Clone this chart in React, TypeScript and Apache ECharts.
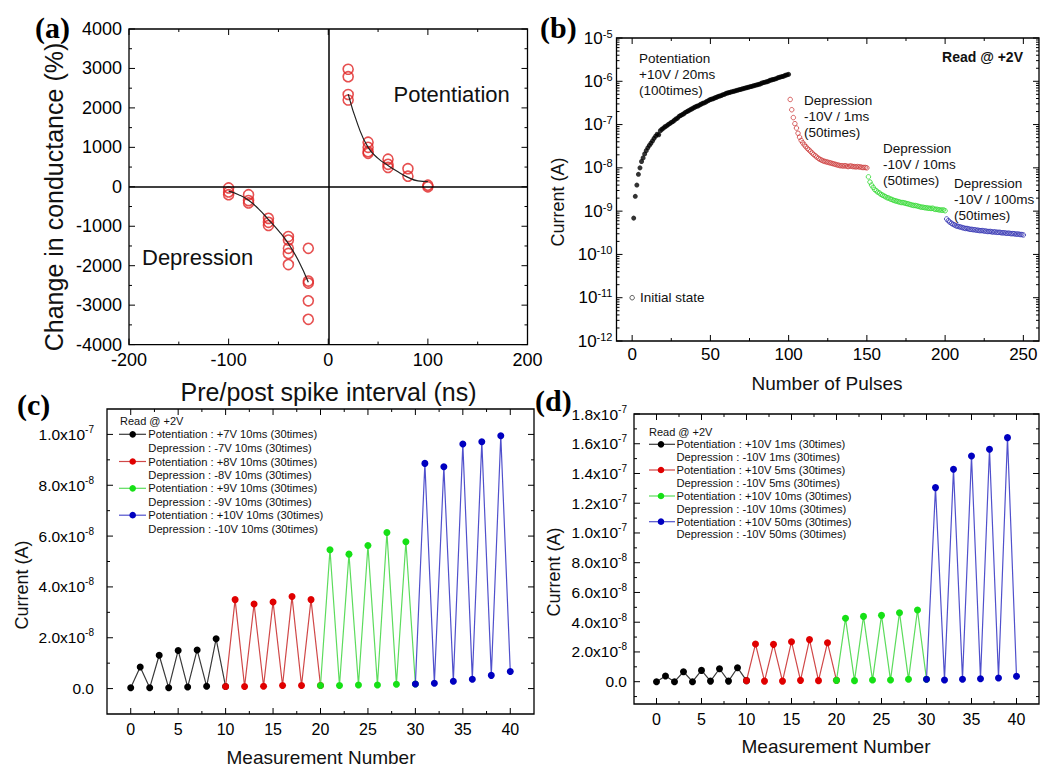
import React, { useEffect, useRef } from 'react';
import * as echarts from 'echarts';

const FONT = '"Liberation Sans", Arial, sans-serif';
const SERIF = '"Liberation Serif", "Times New Roman", serif';

// ---------------- Panel (a) data ----------------
const aIntervals = [-100, -100, -100, -80, -80, -80, -60, -60, -60, -40, -40, -40, -40, -40, -20, -20, -20, -20, -20,
  20, 20, 20, 20, 40, 40, 40, 40, 60, 60, 60, 80, 80, 100, 100];
const aChange = [-30, -130, -200, -200, -350, -410, -800, -900, -980, -1260, -1350, -1560, -1690, -1970, -1560, -2390, -2440, -2890, -3360,
  2980, 2790, 2340, 2200, 1130, 1000, 890, 850, 700, 570, 490, 460, 270, 40, 0];
const aDepFitX = [-100, -90, -80, -70, -60, -50, -40, -30, -20];
const aDepFitY = [-110, -200, -340, -560, -830, -1110, -1440, -1870, -2420];
const aPotFitX = [20, 30, 40, 50, 60, 70, 80, 90, 100];
const aPotFitY = [2350, 1550, 1000, 720, 540, 380, 240, 150, 130];
const aXTicks = [-200, -100, 0, 100, 200];
const aXMinor = [-150, -50, 50, 150];
const aYTicks = [-4000, -3000, -2000, -1000, 0, 1000, 2000, 3000, 4000];
const aYMinor = [-3500, -2500, -1500, -500, 500, 1500, 2500, 3500];

// ---------------- Panel (b) data ----------------
const bInitial = [[0, 1e-11]];
const bPotStart = 1;
const bPotValues = [
  6.9e-10, 2.2e-9, 4.0e-9, 7.1e-9, 1.0e-8, 1.4e-8, 1.7e-8, 2.1e-8, 2.5e-8, 2.9e-8,
  3.3e-8, 3.7e-8, 4.2e-8, 4.8e-8, 5.4e-8, 6.0e-8, 5.8e-8, 7.2e-8, 7.8e-8, 8.3e-8,
  8.9e-8, 9.3e-8, 1.0e-7, 1.05e-7, 1.12e-7, 1.17e-7, 1.26e-7, 1.35e-7, 1.41e-7, 1.55e-7,
  1.62e-7, 1.70e-7, 1.78e-7, 1.91e-7, 2.0e-7, 2.09e-7, 2.19e-7, 2.29e-7, 2.40e-7, 2.51e-7,
  2.63e-7, 2.69e-7, 2.82e-7, 2.95e-7, 3.09e-7, 3.16e-7, 3.31e-7, 3.47e-7, 3.63e-7, 3.80e-7,
  3.89e-7, 3.98e-7, 4.17e-7, 4.27e-7, 4.47e-7, 4.57e-7, 4.68e-7, 4.90e-7, 5.0e-7, 5.25e-7,
  5.37e-7, 5.50e-7, 5.62e-7, 5.75e-7, 5.89e-7, 6.03e-7, 6.17e-7, 6.31e-7, 6.46e-7, 6.61e-7,
  6.76e-7, 6.92e-7, 7.08e-7, 7.24e-7, 7.41e-7, 7.59e-7, 7.76e-7, 7.94e-7, 8.13e-7, 8.32e-7,
  8.51e-7, 8.71e-7, 9.12e-7, 9.33e-7, 9.55e-7, 9.77e-7, 1.0e-6, 1.05e-6, 1.07e-6, 1.10e-6,
  1.12e-6, 1.15e-6, 1.20e-6, 1.23e-6, 1.26e-6, 1.29e-6, 1.32e-6, 1.38e-6, 1.41e-6, 1.45e-6];
const bDep1Start = 101;
const bDep1Values = [
  3.8e-7, 2.2e-7, 1.45e-7, 1.05e-7, 8.3e-8, 6.3e-8, 5.1e-8, 4.3e-8, 3.8e-8, 3.4e-8,
  3.1e-8, 2.8e-8, 2.6e-8, 2.4e-8, 2.2e-8, 2.04e-8, 1.9e-8, 1.78e-8, 1.66e-8, 1.58e-8,
  1.51e-8, 1.45e-8, 1.41e-8, 1.38e-8, 1.35e-8, 1.32e-8, 1.29e-8, 1.26e-8, 1.23e-8, 1.20e-8,
  1.17e-8, 1.15e-8, 1.12e-8, 1.12e-8, 1.10e-8, 1.12e-8, 1.10e-8, 1.07e-8, 1.10e-8, 1.10e-8,
  1.07e-8, 1.07e-8, 1.05e-8, 1.07e-8, 1.05e-8, 1.05e-8, 1.02e-8, 1.02e-8, 1.02e-8, 1.0e-8];
const bDep2Start = 151;
const bDep2Values = [
  6.2e-9, 4.7e-9, 4.0e-9, 3.55e-9, 3.16e-9, 2.95e-9, 2.75e-9, 2.63e-9, 2.45e-9, 2.34e-9,
  2.24e-9, 2.14e-9, 2.04e-9, 2.0e-9, 1.91e-9, 1.86e-9, 1.78e-9, 1.74e-9, 1.70e-9, 1.66e-9,
  1.62e-9, 1.58e-9, 1.58e-9, 1.55e-9, 1.51e-9, 1.48e-9, 1.45e-9, 1.41e-9, 1.38e-9, 1.35e-9,
  1.35e-9, 1.32e-9, 1.29e-9, 1.26e-9, 1.23e-9, 1.23e-9, 1.20e-9, 1.20e-9, 1.17e-9, 1.17e-9,
  1.15e-9, 1.17e-9, 1.12e-9, 1.10e-9, 1.10e-9, 1.07e-9, 1.07e-9, 1.05e-9, 1.07e-9, 1.02e-9];
const bDep3Start = 201;
const bDep3Values = [
  6.6e-10, 6.0e-10, 5.6e-10, 5.25e-10, 5.0e-10, 4.8e-10, 4.57e-10, 4.47e-10, 4.37e-10, 4.27e-10,
  4.17e-10, 4.07e-10, 3.98e-10, 3.98e-10, 3.89e-10, 3.80e-10, 3.80e-10, 3.72e-10, 3.72e-10, 3.63e-10,
  3.63e-10, 3.55e-10, 3.55e-10, 3.55e-10, 3.47e-10, 3.47e-10, 3.39e-10, 3.39e-10, 3.39e-10, 3.31e-10,
  3.31e-10, 3.31e-10, 3.24e-10, 3.24e-10, 3.24e-10, 3.16e-10, 3.16e-10, 3.16e-10, 3.09e-10, 3.09e-10,
  3.09e-10, 3.02e-10, 3.02e-10, 3.02e-10, 2.95e-10, 2.95e-10, 2.95e-10, 2.88e-10, 2.88e-10, 2.82e-10];
const bXTicks = [0, 50, 100, 150, 200, 250];
const bXMinor = [25, 75, 125, 175, 225];
const bYTicks = [1e-12, 1e-11, 1e-10, 1e-9, 1e-8, 1e-7, 1e-6, 1e-5];

// ---------------- Panel (c) data ----------------
const cBlack = [3e-10, 8.5e-9, 3e-10, 1.31e-8, 3e-10, 1.5e-8, 6e-10, 1.52e-8, 9e-10, 1.96e-8, 8e-10];
const cRed = [8e-10, 3.5e-8, 8e-10, 3.33e-8, 9e-10, 3.41e-8, 1.2e-9, 3.62e-8, 1.2e-9, 3.5e-8, 1.2e-9];
const cGreen = [1.2e-9, 5.46e-8, 1.2e-9, 5.29e-8, 1.4e-9, 5.63e-8, 1.4e-9, 6.14e-8, 1.7e-9, 5.78e-8, 1.8e-9];
const cBlue = [1.8e-9, 8.86e-8, 2.1e-9, 8.73e-8, 2.9e-9, 9.62e-8, 3.7e-9, 9.71e-8, 5.2e-9, 9.95e-8, 6.7e-9];
const cLegend = [
  'Potentiation : +7V 10ms (30times)', 'Depression : -7V 10ms (30times)',
  'Potentiation : +8V 10ms (30times)', 'Depression : -8V 10ms (30times)',
  'Potentiation : +9V 10ms (30times)', 'Depression : -9V 10ms (30times)',
  'Potentiation : +10V 10ms (30times)', 'Depression : -10V 10ms (30times)'];
const cYTicks = [0, 2e-8, 4e-8, 6e-8, 8e-8, 1e-7];
const cYMinor = [1e-8, 3e-8, 5e-8, 7e-8, 9e-8];

// ---------------- Panel (d) data ----------------
const dBlack = [0, 3.8e-9, 0, 6.7e-9, 0, 7.6e-9, 4e-10, 8.7e-9, 4e-10, 9.4e-9, 7e-10];
const dRed = [7e-10, 2.53e-8, 4e-10, 2.51e-8, 4e-10, 2.69e-8, 9e-10, 2.83e-8, 7e-10, 2.62e-8, 9e-10];
const dGreen = [9e-10, 4.26e-8, 7e-10, 4.39e-8, 1.1e-9, 4.46e-8, 1.1e-9, 4.64e-8, 1.6e-9, 4.82e-8, 1.6e-9];
const dBlue = [1.6e-9, 1.305e-7, 1.1e-9, 1.428e-7, 1.6e-9, 1.518e-7, 2e-9, 1.563e-7, 2.5e-9, 1.641e-7, 3.6e-9];
const dLegend = [
  'Potentiation : +10V 1ms (30times)', 'Depression : -10V 1ms (30times)',
  'Potentiation : +10V 5ms (30times)', 'Depression : -10V 5ms (30times)',
  'Potentiation : +10V 10ms (30times)', 'Depression : -10V 10ms (30times)',
  'Potentiation : +10V 50ms (30times)', 'Depression : -10V 50ms (30times)'];
const dYTicks = [0, 2e-8, 4e-8, 6e-8, 8e-8, 1e-7, 1.2e-7, 1.4e-7, 1.6e-7, 1.8e-7];
const dYMinor = [-1e-8, 1e-8, 3e-8, 5e-8, 7e-8, 9e-8, 1.1e-7, 1.3e-7, 1.5e-7, 1.7e-7];

const cdXTicks = [0, 5, 10, 15, 20, 25, 30, 35, 40];
const cdXMinor = [2.5, 7.5, 12.5, 17.5, 22.5, 27.5, 32.5, 37.5];
const cdStarts = [0, 10, 20, 30];

const DOT = ['#000000', '#e00000', '#16e016', '#0000c0'];
const LINE = ['#3a3a3a', '#d04848', '#5cdc5c', '#5050cc'];

// ---------------- helpers ----------------
function labelAxis(type: string, pos: string, c: any) {
  const l: any = { show: c.showLabels !== false, margin: c.margin, color: '#000', fontSize: c.fontSize, fontFamily: FONT };
  if (c.labels) l.customValues = c.labels;
  if (c.formatter) l.formatter = c.formatter;
  if (c.rich) l.rich = c.rich;
  const ax: any = {
    type, gridIndex: 0, position: pos, min: c.min, max: c.max,
    axisLine: { show: false, onZero: false }, axisTick: { show: false }, axisLabel: l, splitLine: { show: false },
  };
  if (type === 'log') ax.logBase = 10;
  return ax;
}

const plainFmt = (v: number) => String(Math.round(v * 1000) / 1000);
const sciFormatter = (v: number) => {
  if (Math.abs(v) < 1e-15) return '{b|0.0}';
  const e = Math.floor(Math.log10(v) + 1e-9);
  const m = v / Math.pow(10, e);
  return `{b|${m.toFixed(1)}x10}{s|${e}}`;
};
const sciRich = (size: number, sup: number) => ({
  b: { fontSize: size, fontFamily: FONT, color: '#000', lineHeight: 20 },
  s: { fontSize: sup, fontFamily: FONT, color: '#000', lineHeight: 10, verticalAlign: 'top' },
});

function textEl(x: number, y: number, t: string, size: number, extra: any = {}) {
  const { rotation, ...style } = extra;
  const el: any = {
    type: 'text', x, y, silent: true, z: 10,
    style: { text: t, fontSize: size, fontFamily: FONT, fill: '#111', textAlign: 'left', verticalAlign: 'middle', ...style },
  };
  if (rotation) el.rotation = rotation;
  return el;
}
const LETTER = { fontFamily: SERIF, fontWeight: 'bold', fill: '#000' };
const ROT = { rotation: Math.PI / 2, textAlign: 'center' };

function legendEls(readX: number, readY: number, lx1: number, lx2: number, dotX: number, tx: number, rowsP: number[], rowsD: number[], labels: string[]) {
  const g: any[] = [textEl(readX, readY, 'Read @ +2V', 11)];
  for (let k = 0; k < 4; k++) {
    g.push({ type: 'line', silent: true, z: 10, shape: { x1: lx1, y1: rowsP[k], x2: lx2, y2: rowsP[k] }, style: { stroke: LINE[k], lineWidth: 1.2 } });
    g.push({ type: 'circle', silent: true, z: 11, shape: { cx: dotX, cy: rowsP[k], r: 3.3 }, style: { fill: DOT[k] } });
    g.push(textEl(tx, rowsP[k], labels[2 * k], 11.2));
    g.push(textEl(tx, rowsD[k], labels[2 * k + 1], 11.2));
  }
  return g;
}

// frame + inside ticks, positioned through the chart's own axis scales
function frameEls(chart: any, s: any) {
  const [l, t, w, h] = s.rect;
  const r = l + w;
  const b = t + h;
  const els: any[] = [{ type: 'rect', silent: true, z: 6, shape: { x: l, y: t, width: w, height: h }, style: { fill: 'none', stroke: '#000', lineWidth: 1.3 } }];
  const seg = (x1: number, y1: number, x2: number, y2: number) =>
    els.push({ type: 'line', silent: true, z: 6, shape: { x1, y1, x2, y2 }, style: { stroke: '#000', lineWidth: 1 } });
  const px = (v: number) => chart.convertToPixel({ xAxisIndex: 0 }, v);
  const py = (v: number) => chart.convertToPixel({ yAxisIndex: 0 }, v);
  const ok = (n: any) => typeof n === 'number' && isFinite(n);
  s.xMajor.forEach((v: number) => { const x = px(v); if (ok(x)) { seg(x, b, x, b - 6); seg(x, t, x, t + 6); } });
  s.xMinor.forEach((v: number) => { const x = px(v); if (ok(x)) { seg(x, b, x, b - 3); seg(x, t, x, t + 3); } });
  s.yMajor.forEach((v: number) => { const y = py(v); if (ok(y)) { seg(l, y, l + 6, y); seg(r, y, r - 6, y); } });
  s.yMinor.forEach((v: number) => { const y = py(v); if (ok(y)) { seg(l, y, l + 3, y); seg(r, y, r - 3, y); } });
  if (s.xLabels) {
    s.xLabels.forEach((v: number) => {
      const x = px(v);
      if (ok(x)) els.push(textEl(x, s.xLabelY, String(v), s.xLabelSize, { textAlign: 'center', fill: '#000' }));
    });
  }
  return els;
}

// ---------------- panel options ----------------
function optionA() {
  const rect = [129, 29, 398.5, 315.6];
  return {
    frame: { rect, xMajor: aXTicks, xMinor: aXMinor, yMajor: aYTicks, yMinor: aYMinor },
    option: {
      animation: false,
      grid: [{ left: rect[0], top: rect[1], width: rect[2], height: rect[3] }],
      xAxis: [labelAxis('value', 'bottom', { min: -200, max: 200, labels: aXTicks, margin: 6, fontSize: 18, formatter: plainFmt })],
      yAxis: [labelAxis('value', 'left', { min: -4000, max: 4000, labels: aYTicks, margin: 7, fontSize: 18, formatter: plainFmt })],
      series: [
        { type: 'line', data: aDepFitX.map((x, i) => [x, aDepFitY[i]]), smooth: true, showSymbol: false, symbol: 'none', lineStyle: { color: '#222', width: 1.2 } },
        { type: 'line', data: aPotFitX.map((x, i) => [x, aPotFitY[i]]), smooth: true, showSymbol: false, symbol: 'none', lineStyle: { color: '#222', width: 1.2 } },
        {
          type: 'scatter', data: aIntervals.map((x, i) => [x, aChange[i]]), symbol: 'circle', symbolSize: 10,
          itemStyle: { color: 'rgba(255,255,255,0)', borderColor: '#e02424', borderWidth: 1.6 },
          markLine: {
            silent: true, symbol: ['none', 'none'], label: { show: false },
            lineStyle: { color: '#000', width: 1.5, type: 'solid' },
            data: [{ xAxis: 0 }, { yAxis: 0 }],
          },
        },
      ],
      graphic: [
        textEl(35, 27, '(a)', 30, LETTER),
        textEl(54, 197, 'Change in conductance (%)', 25, ROT),
        textEl(328.5, 392, 'Pre/post spike interval (ns)', 25, { textAlign: 'center' }),
        textEl(393.6, 94.6, 'Potentiation', 22),
        textEl(142, 257, 'Depression', 22),
      ],
    },
  };
}

function optionB() {
  const rect = [616.5, 38, 422.5, 303];
  const yMinor: number[] = [];
  for (let e = -12; e < -5; e++) for (let k = 2; k <= 9; k++) yMinor.push(k * Math.pow(10, e));
  const open = (data: number[][], color: string) => ({
    type: 'scatter', data, symbol: 'circle', symbolSize: 4.5,
    itemStyle: { color: 'rgba(255,255,255,0)', borderColor: color, borderWidth: 1 },
  });
  const ml = { verticalAlign: 'top', lineHeight: 16.2 };
  return {
    frame: { rect, xMajor: bXTicks, xMinor: bXMinor, yMajor: bYTicks, yMinor },
    option: {
      animation: false,
      grid: [{ left: rect[0], top: rect[1], width: rect[2], height: rect[3] }],
      xAxis: [labelAxis('value', 'bottom', { min: -10, max: 260, labels: bXTicks, margin: 5, fontSize: 17, formatter: plainFmt })],
      yAxis: [labelAxis('log', 'left', {
        min: 1e-12, max: 1e-5, margin: 4, fontSize: 17,
        formatter: (v: number) => `{b|10}{s|${Math.round(Math.log10(v))}}`,
        rich: sciRich(17, 11),
      })],
      series: [
        { type: 'scatter', data: bPotValues.map((v, i) => [bPotStart + i, v]), symbol: 'circle', symbolSize: 5, itemStyle: { color: '#000' } },
        open(bDep1Values.map((v, i) => [bDep1Start + i, v]), '#cc3a3a'),
        open(bDep2Values.map((v, i) => [bDep2Start + i, v]), '#2fd82f'),
        open(bDep3Values.map((v, i) => [bDep3Start + i, v]), '#3030b0'),
        open(bInitial, '#333'),
      ],
      graphic: [
        textEl(540, 27, '(b)', 30, LETTER),
        textEl(558, 202, 'Current (A)', 18, ROT),
        textEl(827, 383, 'Number of Pulses', 19, { textAlign: 'center' }),
        textEl(639, 50, 'Potentiation\n+10V / 20ms\n(100times)', 13.5, ml),
        textEl(804, 92, 'Depression\n-10V / 1ms\n(50times)', 13.5, ml),
        textEl(883, 140, 'Depression\n-10V / 10ms\n(50times)', 13.5, ml),
        textEl(954, 175, 'Depression\n-10V / 100ms\n(50times)', 13.5, ml),
        textEl(640, 297.5, 'Initial state', 13.5),
        textEl(1023, 57, 'Read @ +2V', 14, { textAlign: 'right', fontWeight: 'bold' }),
      ],
    },
  };
}

function lineSeries(vals: number[], k: number) {
  return {
    type: 'line', data: vals.map((v, i) => [cdStarts[k] + i, v]),
    symbol: 'circle', symbolSize: 7, showSymbol: true, z: 3,
    itemStyle: { color: DOT[k] }, lineStyle: { color: LINE[k], width: 1.2 },
  };
}

function optionC() {
  const rect = [107, 409, 427, 305];
  return {
    frame: { rect, xMajor: cdXTicks, xMinor: cdXMinor, yMajor: cYTicks, yMinor: cYMinor, xLabels: cdXTicks, xLabelY: 729, xLabelSize: 16 },
    option: {
      animation: false,
      grid: [{ left: rect[0], top: rect[1], width: rect[2], height: rect[3] }],
      xAxis: [labelAxis('value', 'bottom', { min: -2.5, max: 42.5, showLabels: false, margin: 7, fontSize: 16 })],
      yAxis: [labelAxis('value', 'left', { min: -1e-8, max: 1.1e-7, labels: cYTicks, margin: 13, fontSize: 15, formatter: sciFormatter, rich: sciRich(15.5, 10) })],
      series: [cBlack, cRed, cGreen, cBlue].map((v, k) => lineSeries(v, k)),
      graphic: [
        textEl(17, 404, '(c)', 30, LETTER),
        textEl(22, 585, 'Current (A)', 18, ROT),
        textEl(321, 757, 'Measurement Number', 19, { textAlign: 'center' }),
        ...legendEls(120, 421, 119, 146, 132.7, 148.3, [434.3, 461.5, 488.3, 515.2], [447.7, 475, 501.8, 528.7], cLegend),
      ],
    },
  };
}

function optionD() {
  const rect = [634, 414, 405, 290];
  return {
    frame: { rect, xMajor: cdXTicks, xMinor: cdXMinor, yMajor: dYTicks, yMinor: dYMinor },
    option: {
      animation: false,
      grid: [{ left: rect[0], top: rect[1], width: rect[2], height: rect[3] }],
      xAxis: [labelAxis('value', 'bottom', { min: -2.5, max: 42.5, labels: cdXTicks, margin: 7, fontSize: 16, formatter: plainFmt })],
      yAxis: [labelAxis('value', 'left', { min: -1.5e-8, max: 1.8e-7, labels: dYTicks, margin: 7, fontSize: 15, formatter: sciFormatter, rich: sciRich(15.5, 10) })],
      series: [dBlack, dRed, dGreen, dBlue].map((v, k) => lineSeries(v, k)),
      graphic: [
        textEl(535, 400, '(d)', 30, LETTER),
        textEl(554, 572, 'Current (A)', 18, ROT),
        textEl(836, 746, 'Measurement Number', 19, { textAlign: 'center' }),
        ...legendEls(649, 432.3, 649, 675, 661, 676.5, [444.3, 470, 496, 521.7], [457.3, 482.8, 508.6, 534.3], dLegend),
      ],
    },
  };
}

const builders = [optionA, optionB, optionC, optionD];

function Panel({ build }: { build: () => any }) {
  const ref = useRef<HTMLDivElement>(null);
  useEffect(() => {
    if (!ref.current) return;
    const chart = echarts.init(ref.current, null, { renderer: 'svg' });
    const { option, frame } = build();
    try {
      chart.setOption(option);
      const extra = frameEls(chart, frame);
      chart.setOption({ graphic: [...option.graphic, ...extra] });
    } catch (e) {
      console.error(e);
    }
    return () => chart.dispose();
  }, []);
  return (
    <div style={{ gridArea: '1 / 1', width: 1049, height: 767, overflow: 'hidden', position: 'relative' }}>
      <div ref={ref} style={{ width: 1049, height: 767 }} />
    </div>
  );
}

export default function App() {
  return (
    <div style={{ position: 'relative', left: -8, top: -8, width: 1049, height: 767, display: 'grid', background: '#fff', lineHeight: 0 }}>
      {builders.map((b, i) => <Panel key={i} build={b} />)}
    </div>
  );
}
